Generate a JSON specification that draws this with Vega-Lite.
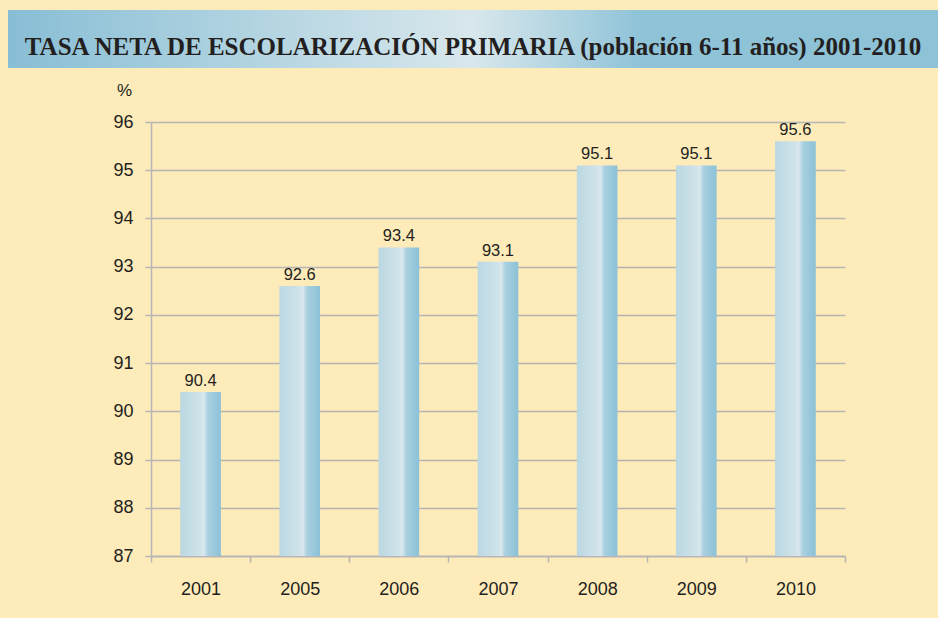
{
  "$schema": "https://vega.github.io/schema/vega-lite/v6.json",
  "background": "#FEEBBA",
  "padding": {"left": 8, "top": 10, "right": 0, "bottom": 20},
  "spacing": 13,
  "config": {
    "font": "Liberation Sans",
    "axis": {"labelColor": "#231F20", "titleColor": "#231F20", "labelFont": "Liberation Sans", "titleFont": "Liberation Sans"}
  },
  "vconcat": [
    {
      "width": 930,
      "height": 58,
      "view": {
        "stroke": null,
        "fill": {
          "gradient": "linear", "x1": 0, "y1": 0, "x2": 1, "y2": 0,
          "stops": [
            {"offset": 0, "color": "#88BED5"},
            {"offset": 0.5, "color": "#D8E7EC"},
            {"offset": 0.68, "color": "#8FC3D8"},
            {"offset": 1, "color": "#8DC2D7"}
          ]
        }
      },
      "data": {"values": [{"t": "TASA NETA DE ESCOLARIZACIÓN PRIMARIA (población 6-11 años) 2001-2010"}]},
      "mark": {"type": "text", "font": "Liberation Serif", "fontWeight": "bold", "fontSize": 25, "color": "#231F20", "align": "center", "baseline": "alphabetic", "dy": 16},
      "encoding": {"text": {"field": "t"}}
    },
    {
      "width": 837,
      "height": 434,
      "view": {"stroke": null},
      "data": {
        "values": [
          {"year": "2001", "value": 90.4},
          {"year": "2005", "value": 92.6},
          {"year": "2006", "value": 93.4},
          {"year": "2007", "value": 93.1},
          {"year": "2008", "value": 95.1},
          {"year": "2009", "value": 95.1},
          {"year": "2010", "value": 95.6}
        ]
      },
      "encoding": {
        "x": {
          "field": "year", "type": "ordinal",
          "scale": {"paddingInner": 0, "paddingOuter": 0, "range": [143, 837]},
          "axis": {
            "title": null,
            "labelAngle": 0, "labelFontSize": 18, "labelPadding": 18,
            "tickBand": "extent", "tickSize": 6, "tickColor": "#B5B5B5", "tickWidth": 1.5,
            "domainColor": "#B5B5B5", "domainWidth": 1.5, "grid": false
          }
        },
        "y": {
          "field": "value", "type": "quantitative",
          "scale": {"domain": [87, 96], "zero": false, "nice": false},
          "axis": {
            "offset": -143,
            "title": "%", "titleAngle": 0, "titleX": -27, "titleY": -32, "titleAlign": "center", "titleBaseline": "middle",
            "titleFontSize": 17, "titleFontWeight": "normal",
            "values": [87, 88, 89, 90, 91, 92, 93, 94, 95, 96],
            "labelFontSize": 18, "labelPadding": 12,
            "tickSize": 6, "tickColor": "#B5B5B5", "tickWidth": 1.5,
            "domainColor": "#B5B5B5", "domainWidth": 1.5,
            "grid": true, "gridColor": "#B5B5B5", "gridWidth": 1.5
          }
        }
      },
      "layer": [
        {
          "mark": {
            "type": "bar", "clip": true, "width": {"band": 0.41},
            "color": {
              "gradient": "linear", "x1": 0, "y1": 0, "x2": 1, "y2": 0,
              "stops": [
                {"offset": 0, "color": "#BBD8E2"},
                {"offset": 0.5, "color": "#D0E3EA"},
                {"offset": 0.58, "color": "#DAE8EE"},
                {"offset": 0.68, "color": "#A9D0E0"},
                {"offset": 1, "color": "#8BC1D7"}
              ]
            }
          },
          "encoding": {"y2": {"datum": 87}}
        },
        {
          "mark": {"type": "text", "baseline": "alphabetic", "dy": -6, "fontSize": 16.5, "color": "#231F20", "font": "Liberation Sans"},
          "encoding": {"text": {"field": "value", "type": "quantitative", "format": ".1f"}}
        }
      ]
    }
  ]
}
